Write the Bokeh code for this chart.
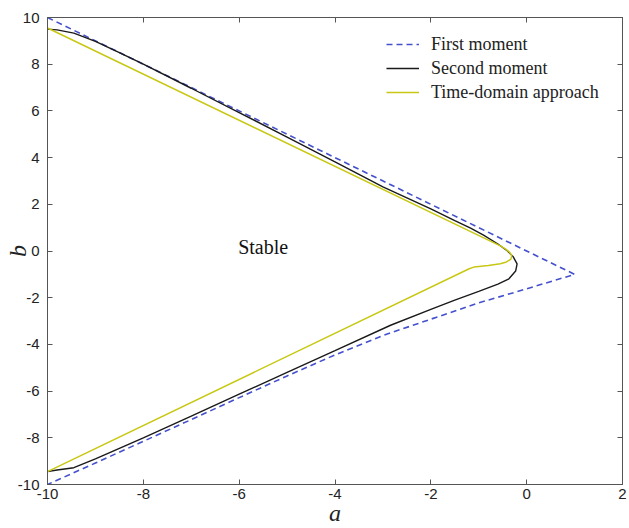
from bokeh.plotting import figure
from bokeh.models import LinearAxis, FixedTicker, Legend, LegendItem, Label
from bokeh.embed import file_html
from bokeh.resources import INLINE

# First moment boundary (dashed blue)
first_a = [-10.0, 1.0, 0.0, -1.0, -2.0, -3.0, -4.0, -5.0, -6.0, -7.0, -8.0, -9.0, -10.0]
first_b = [10.0, -1.0, -1.62, -2.22, -2.92, -3.62, -4.45, -5.35, -6.28, -7.22, -8.15, -9.08, -10.0]

# Second moment boundary (black)
second_a = [-10.0, -9.8, -9.45, -9.0, -8.5, -8.0, -7.0, -6.0, -5.0, -4.0, -3.0, -2.0, -1.5,
            -1.17, -0.9, -0.6, -0.4, -0.28, -0.2, -0.23, -0.37, -0.6, -1.0, -1.5, -2.0,
            -2.84, -4.0, -5.0, -6.0, -7.0, -8.0, -8.5, -9.0, -9.45, -9.8, -10.0]
second_b = [9.5, 9.47, 9.33, 8.98, 8.5, 8.0, 6.97, 5.93, 4.88, 3.82, 2.75, 1.8, 1.3,
            0.98, 0.68, 0.3, 0.0, -0.25, -0.55, -0.86, -1.19, -1.42, -1.73, -2.1, -2.5,
            -3.18, -4.27, -5.2, -6.13, -7.07, -8.0, -8.45, -8.9, -9.28, -9.38, -9.45]

# Time-domain approach boundary (yellow)
time_a = [-10.0, -0.55, -0.45, -0.36, -0.31, -0.33, -0.42, -0.55, -0.8, -1.1, -1.2, -10.0]
time_b = [9.55, 0.22, 0.1, -0.05, -0.2, -0.35, -0.47, -0.55, -0.62, -0.69, -0.76, -9.45]

x_ticks = [-10, -8, -6, -4, -2, 0, 2]
y_ticks = [-10, -8, -6, -4, -2, 0, 2, 4, 6, 8, 10]

stable_pos = (-5.5, 0.17)

BLUE = "#4450cc"
BLACK = "#1a1a1a"
YELLOW = "#c8c814"
AXIS = "#555555"
LABEL = "#222222"

p = figure(width=629, height=528, output_backend="svg", toolbar_location=None,
           x_range=(-10, 2), y_range=(-10, 10),
           min_border_left=47, min_border_right=7, min_border_top=17, min_border_bottom=41,
           x_axis_label="a", y_axis_label="b")
p.background_fill_color = "white"
p.border_fill_color = "white"
p.outline_line_color = AXIS
p.grid.visible = False

r1 = p.line(first_a, first_b, line_color=BLUE, line_width=1.6, line_dash="6 4")
r2 = p.line(second_a, second_b, line_color=BLACK, line_width=1.4)
r3 = p.line(time_a, time_b, line_color=YELLOW, line_width=1.5)

for ax, ticks in ((p.xaxis[0], x_ticks), (p.yaxis[0], y_ticks)):
    ax.ticker = FixedTicker(ticks=ticks)
    ax.major_label_overrides = {t: str(t) for t in ticks}
    ax.major_tick_in = 5
    ax.major_tick_out = 0
    ax.minor_tick_in = 0
    ax.minor_tick_out = 0
    ax.axis_line_color = AXIS
    ax.major_tick_line_color = AXIS
    ax.major_label_text_font = "Liberation Sans"
    ax.major_label_text_font_size = "15px"
    ax.major_label_text_color = LABEL
    ax.axis_label_text_font = "Liberation Serif"
    ax.axis_label_text_font_style = "italic"
    ax.axis_label_text_font_size = "24px"
    ax.axis_label_text_color = LABEL

p.xaxis[0].major_label_standoff = 4
p.xaxis[0].axis_label_standoff = -2
p.yaxis[0].major_label_standoff = 8
p.yaxis[0].axis_label_standoff = -16

for loc, ticks in (("right", y_ticks), ("above", x_ticks)):
    ax = LinearAxis(ticker=FixedTicker(ticks=ticks))
    ax.major_tick_in = 5
    ax.major_tick_out = 0
    ax.minor_tick_in = 0
    ax.minor_tick_out = 0
    ax.axis_line_color = AXIS
    ax.major_tick_line_color = AXIS
    ax.major_label_text_font_size = "1px"
    ax.major_label_text_alpha = 0
    ax.major_label_standoff = 0
    p.add_layout(ax, loc)

legend = Legend(items=[
    LegendItem(label="First moment", renderers=[r1]),
    LegendItem(label="Second moment", renderers=[r2]),
    LegendItem(label="Time-domain approach", renderers=[r3]),
], location=(339, 380))
legend.border_line_color = None
legend.background_fill_alpha = 0
legend.label_text_font = "Liberation Serif"
legend.label_text_font_size = "18px"
legend.label_text_color = LABEL
legend.glyph_width = 33
legend.spacing = 0
legend.label_height = 24
legend.glyph_height = 24
legend.margin = 0
legend.padding = 4
legend.label_standoff = 12
p.add_layout(legend)

p.add_layout(Label(x=stable_pos[0], y=stable_pos[1], text="Stable",
                   text_font="Liberation Serif", text_font_size="20px",
                   text_color="#111111", text_align="center", text_baseline="middle"))

open("out.html", "w").write(file_html(p, INLINE))
